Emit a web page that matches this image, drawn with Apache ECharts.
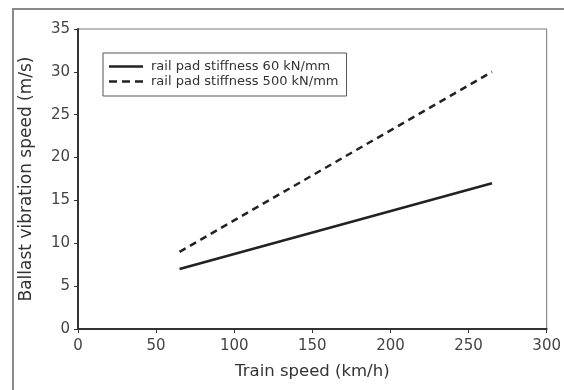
<!DOCTYPE html>
<html style="height: 100%">
<head>
    <meta charset="utf-8">
    <title>Ballast vibration speed</title>
    <script type="text/javascript" src="https://cdn.jsdelivr.net/npm/echarts@6.0.0/dist/echarts.min.js"></script>
</head>
<body style="height: 100%; margin: 0; background: #fff">
<div id="container" style="width: 564px; height: 390px"></div>
<script type="text/javascript">
    var speeds = [65, 265];
    var soft = [7, 17];      // 60 kN/mm
    var stiff = [9, 30];     // 500 kN/mm
    var names = ['rail pad stiffness 60 kN/mm', 'rail pad stiffness 500 kN/mm'];

    var chart = echarts.init(document.getElementById('container'));
    var font = 'DejaVu Sans, sans-serif';

    function pairs(xs, ys) {
        return xs.map(function (x, i) { return [x, ys[i]]; });
    }

    // legend keys drawn as thin bars (solid / three dashes)
    var solidIcon = 'path://M0,0L34,0L34,2.5L0,2.5Z';
    var dashIcon = 'path://M0,0L8,0L8,2.5L0,2.5ZM13,0L21,0L21,2.5L13,2.5ZM26,0L34,0L34,2.5L26,2.5Z';

    var option = {
        animation: false,
        textStyle: { fontFamily: font },
        graphic: [{
            type: 'rect',
            shape: { x: 13, y: 9, width: 600, height: 420 },
            style: { fill: 'none', stroke: '#8a8a8a', lineWidth: 2 },
            z: -1
        }],
        grid: {
            left: 78, right: 17, top: 29, bottom: 61,
            show: true, borderColor: '#777', borderWidth: 1
        },
        legend: {
            left: 103, top: 53,
            orient: 'vertical',
            itemWidth: 34, itemHeight: 2.5, itemGap: 2,
            padding: [7, 8, 8, 6],
            borderColor: '#555', borderWidth: 1,
            textStyle: { fontSize: 13, color: '#333', fontFamily: font, padding: [0, 0, 0, 3] },
            data: [
                { name: names[0], icon: solidIcon },
                { name: names[1], icon: dashIcon }
            ]
        },
        xAxis: {
            type: 'value', min: 0, max: 300, interval: 50,
            name: 'Train speed (km/h)', nameLocation: 'middle', nameGap: 34,
            nameTextStyle: { fontSize: 16.5, color: '#333', fontFamily: font },
            axisLine: { lineStyle: { color: '#333', width: 2 } },
            axisTick: { length: 4, lineStyle: { color: '#333' } },
            axisLabel: { fontSize: 15, color: '#444', margin: 10 },
            splitLine: { show: false }
        },
        yAxis: {
            type: 'value', min: 0, max: 35, interval: 5,
            name: 'Ballast vibration speed (m/s)', nameLocation: 'middle', nameGap: 43,
            nameTextStyle: { fontSize: 17, color: '#333', fontFamily: font },
            axisLine: { show: true, lineStyle: { color: '#333', width: 2 } },
            axisTick: { show: true, length: 4, lineStyle: { color: '#333' } },
            axisLabel: { fontSize: 15, color: '#444', margin: 8 },
            splitLine: { show: false }
        },
        series: [{
            name: names[0], type: 'line', symbol: 'none',
            data: pairs(speeds, soft),
            lineStyle: { color: '#222', width: 2.5, type: 'solid' },
            itemStyle: { color: '#222' }
        }, {
            name: names[1], type: 'line', symbol: 'none',
            data: pairs(speeds, stiff),
            lineStyle: { color: '#222', width: 2.5, type: [7, 5] },
            itemStyle: { color: '#222' }
        }]
    };
    chart.setOption(option);
</script>
</body>
</html>
